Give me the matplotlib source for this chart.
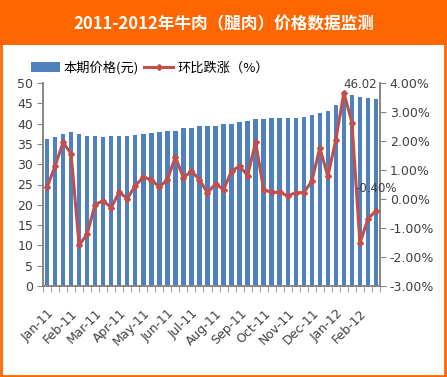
import matplotlib.pyplot as plt
from matplotlib.patches import Rectangle
from matplotlib.lines import Line2D

plt.rcParams['font.family'] = ['DejaVu Sans', 'Noto Sans CJK SC']

# 上中下旬, Jan-11 .. Feb-12 (3 points per month)
months = ['Jan-11', 'Feb-11', 'Mar-11', 'Apr-11', 'May-11', 'Jun-11', 'Jul-11',
          'Aug-11', 'Sep-11', 'Oct-11', 'Nov-11', 'Dec-11', 'Jan-12', 'Feb-12']

price = [36.3, 36.8, 37.5, 38.0, 37.5, 37.0, 37.0, 36.8, 37.0, 37.0,
         37.0, 37.3, 37.5, 37.8, 38.0, 38.3, 38.3, 38.8, 39.0, 39.3,
         39.5, 39.5, 39.8, 40.0, 40.5, 40.7, 41.2, 41.2, 41.5, 41.5,
         41.5, 41.5, 41.7, 42.0, 42.7, 43.0, 44.7, 47.3, 47.0, 46.5,
         46.2, 46.02]

change = [0.40, 1.13, 1.95, 1.56, -1.60, -1.20, -0.19, -0.06, -0.30, 0.24,
          0.01, 0.46, 0.75, 0.67, 0.41, 0.67, 1.45, 0.73, 0.96, 0.67,
          0.21, 0.53, 0.32, 0.96, 1.13, 0.81, 1.96, 0.32, 0.23, 0.23,
          0.11, 0.22, 0.22, 0.61, 1.76, 0.78, 2.05, 3.67, 2.63, -1.52,
          -0.69, -0.40]

orange = '#FF6600'
blue = '#4F81BD'
red = '#C0504D'
grey = '#868686'
cjk = ['Noto Sans CJK SC', 'DejaVu Sans']

fig = plt.figure(figsize=(4.47, 3.77), dpi=100)

# title bar and frame
fig.patches.append(Rectangle((0, 1 - 45 / 377), 1, 45 / 377, transform=fig.transFigure,
                             facecolor=orange, edgecolor='none', zorder=0))
fig.patches.append(Rectangle((0.002, 0.003), 0.994, 0.99, transform=fig.transFigure,
                             facecolor='none', edgecolor=orange, linewidth=2, zorder=0))
fig.text(0.5, 1 - 24 / 377, '2011-2012年牛肉（腿肉）价格数据监测', color='white',
         fontsize=12, fontweight='bold', ha='center', va='center', family=cjk)

ax = fig.add_axes([43 / 447, 1 - 286 / 377, 337 / 447, 203 / 377])
x = list(range(len(price)))
ax.bar(x, price, width=0.55, color=blue, zorder=2)
ax.set_xlim(-0.5, len(price) - 0.5)
ax.set_ylim(0, 50)
ax.set_yticks(range(0, 51, 5))

ax2 = ax.twinx()
ax2.plot(x, [c / 100 for c in change], color=red, linewidth=2.2, marker='D',
         markersize=3, zorder=3)
ax2.set_ylim(-0.03, 0.04)
ax2.set_yticks([i / 100 for i in range(-3, 5)])
ax2.set_yticklabels(['%.2f%%' % i for i in range(-3, 5)])

for a in (ax, ax2):
    a.spines['top'].set_visible(False)
    for s in ('left', 'right', 'bottom'):
        a.spines[s].set_color(grey)
        a.spines[s].set_linewidth(1.2)
    a.tick_params(colors=grey, labelcolor='#404040', labelsize=9, length=4, pad=3)

ax.set_xticks([i - 0.5 for i in range(len(price) + 1)], minor=True)
ax.set_xticks(x[::3])
ax.set_xticklabels(months, rotation=45, ha='right', rotation_mode='anchor', fontsize=9)
ax.tick_params(axis='x', which='major', length=0, pad=15)
ax.tick_params(axis='x', which='minor', length=4, colors=grey)

ax.annotate('%.2f' % price[-1], (x[-1], price[-1]), xytext=(1, 6),
            textcoords='offset points', ha='right', va='bottom', fontsize=8.5, color='#404040')
ax2.annotate('%.2f%%' % change[-1], (x[-1], change[-1] / 100), xytext=(0, 16),
             textcoords='offset points', ha='center', va='center', fontsize=8.5, color='#404040')

handles = [Rectangle((0, 0), 1, 1, facecolor=blue),
           Line2D([], [], color=red, linewidth=2.2, marker='D', markersize=3)]
fig.legend(handles, ['本期价格(元)', '环比跌涨（%）'], loc='center', ncol=2,
           bbox_to_anchor=(150 / 447, 1 - 68 / 377), frameon=False,
           prop={'family': cjk, 'size': 9.5},
           handlelength=2.2, handleheight=0.8, handletextpad=0.3, columnspacing=0.4)

fig.savefig('out.png', dpi=100)
